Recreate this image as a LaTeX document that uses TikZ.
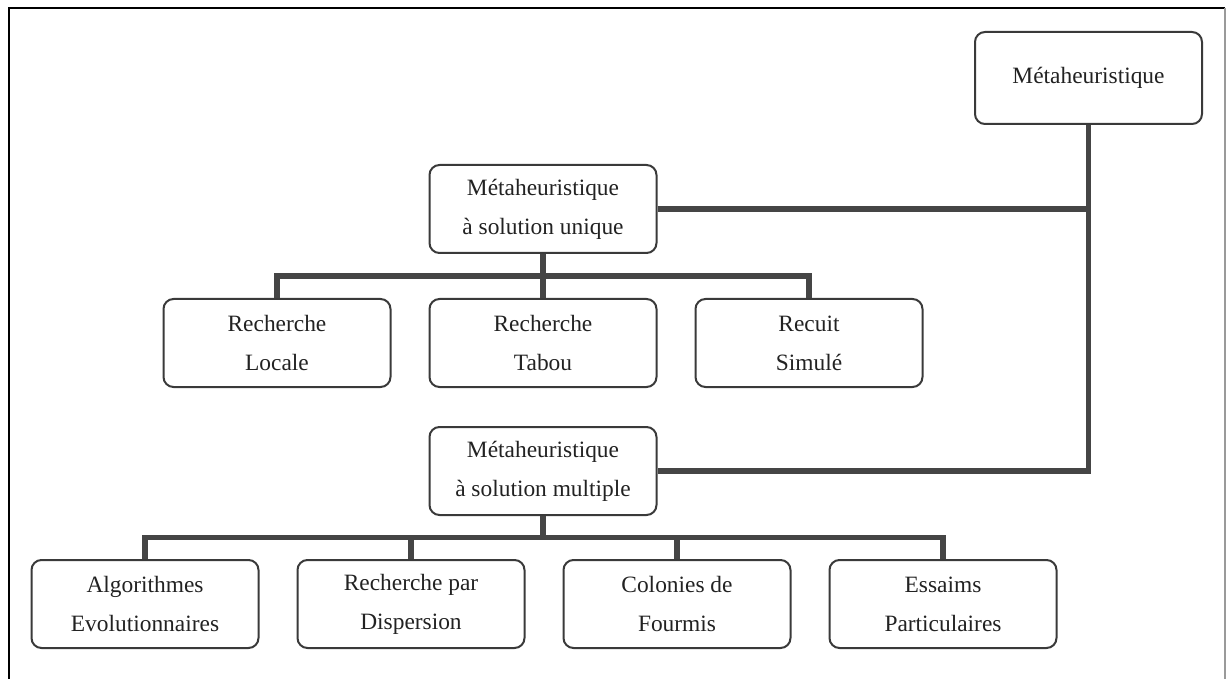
\documentclass[tikz,border=0pt]{standalone}
\usepackage{fontspec}
\setmainfont{Liberation Serif}
\usepackage{xcolor}
\usepackage{tikz}
\usetikzlibrary{positioning,calc}
\definecolor{edge}{HTML}{3A3A3A}
\definecolor{bar}{HTML}{454545}
\definecolor{ink}{HTML}{222222}
\definecolor{frameline}{HTML}{9A9A9A}

\begin{document}
\begin{tikzpicture}[
    node distance=18.5pt,
    box/.style={draw=edge,line width=1pt,rounded corners=5pt,minimum width=113.5pt,minimum height=44pt,
        align=center,text=ink,font=\fontsize{11.7}{19.5}\selectfont,fill=white},
    link/.style={draw=bar,line width=2.8pt}
]
    \useasboundingbox (0,0) rectangle (616pt,-339.5pt);
    % frame (open at the bottom)
    \draw[black,line width=1pt] (4.5pt,-339.5pt) -- (4.5pt,-4pt) -- (612.5pt,-4pt);
    \draw[frameline,line width=0.6pt] (612.5pt,-4pt) -- (612.5pt,-339.5pt);

    \node[box,minimum height=46pt] (meta) at (544.25pt,-39pt) {Métaheuristique};
    \node[box] (single) at (271.5pt,-104.5pt) {Métaheuristique\\à solution unique};
    \node[box,below=22pt of single] (tabu) {Recherche\\Tabou};
    \node[box,left=of tabu] (local) {Recherche\\Locale};
    \node[box,right=of tabu] (anneal) {Recuit\\Simulé};
    \node[box,below=19pt of tabu] (multi) {Métaheuristique\\à solution multiple};
    \node[box,below=21.5pt of multi,xshift=-66pt] (scatter) {Recherche par\\Dispersion};
    \node[box,left=of scatter] (evol) {Algorithmes\\Evolutionnaires};
    \node[box,right=of scatter] (ants) {Colonies de\\Fourmis};
    \node[box,right=of ants] (swarm) {Essaims\\Particulaires};

    \draw[link] (meta.south) |- (multi.east);
    \draw[link] (single.east) -- (single.east -| meta.south);
    \draw[link] (single.south) -- (tabu.north);
    \draw[link] (local.north) |- ($(single.south)!0.5!(tabu.north)$) -| (anneal.north);
    \draw[link] (multi.south) -- ++(0,-10.75pt) coordinate (split);
    \draw[link] (evol.north) |- (split) -| (swarm.north);
    \draw[link] (scatter.north) -- (scatter.north |- split);
    \draw[link] (ants.north) -- (ants.north |- split);
\end{tikzpicture}
\end{document}
